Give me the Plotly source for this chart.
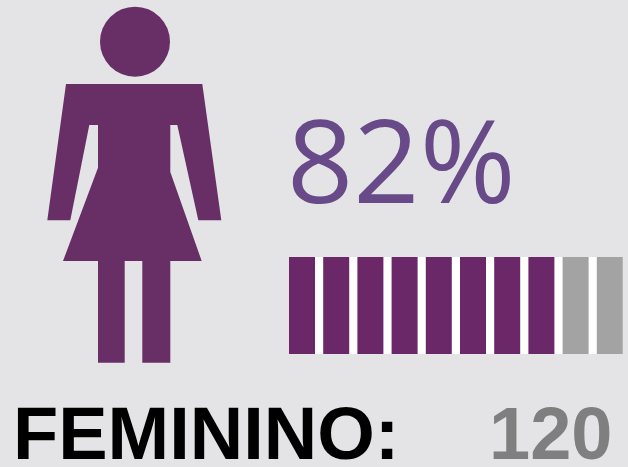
import plotly.graph_objects as go

# --- data ---
label = "FEMININO:"
count = "120"
percent_text = "82%"
segments = [1, 2, 3, 4, 5, 6, 7, 8, 9, 10]
segment_values = [1, 1, 1, 1, 1, 1, 1, 1, 1, 1]
segment_state = ["on", "on", "on", "on", "on", "on", "on", "on", "off", "off"]

# pictogram outline, in picture pixels
person_x = [66, 202.3, 221.3, 198.3, 177.3, 170.3, 170.3, 201.7, 170.3, 170.3, 142.3, 142.3,
            124.7, 124.7, 98, 98, 63, 98, 98, 89.3, 70.3, 47.3, 66]
person_y = [84, 84, 220.3, 220.3, 125, 125, 172, 261, 261, 362.7, 362.7, 261,
            261, 362.7, 362.7, 261, 261, 167.7, 125, 125, 220.3, 220.3, 84]
head_x = [135]
head_y = [41.7]

BG = "#E4E4E6"
PERSON = "#682F66"
ON = "#6A2868"
OFF = "#A3A3A3"

fig = go.Figure()
fig.add_trace(go.Scatter(x=person_x, y=person_y, mode="lines", fill="toself",
                         fillcolor=PERSON, line=dict(width=0, color=PERSON),
                         hoverinfo="skip", showlegend=False))
fig.add_trace(go.Scatter(x=head_x, y=head_y, mode="markers",
                         marker=dict(size=70, color=PERSON, line=dict(width=0)),
                         hoverinfo="skip", showlegend=False))
fig.add_trace(go.Bar(x=segments, y=segment_values, xaxis="x2", yaxis="y2", width=0.76,
                     marker=dict(color=[ON if s == "on" else OFF for s in segment_state], line=dict(width=0)),
                     hoverinfo="skip", showlegend=False))

W, H = 628, 467
hidden = dict(visible=False, showgrid=False, zeroline=False, fixedrange=True)
fig.update_layout(
    width=W, height=H, margin=dict(l=0, r=0, t=0, b=0),
    paper_bgcolor=BG, plot_bgcolor="rgba(0,0,0,0)", hovermode=False,
    xaxis=dict(range=[0, W], domain=[0, 1], **hidden),
    yaxis=dict(range=[H, 0], domain=[0, 1], **hidden),
    xaxis2=dict(range=[0.5, 10.5], domain=[284.9 / W, 626.9 / W], anchor="y2", **hidden),
    yaxis2=dict(range=[0, 1], domain=[1 - 354 / H, 1 - 257 / H], anchor="x2", **hidden),
    shapes=[dict(type="rect", xref="paper", yref="paper", x0=289 / W, x1=623 / W,
                 y0=1 - 354 / H, y1=1 - 257 / H, fillcolor="#FFFFFF",
                 line=dict(width=0), layer="below")],
    annotations=[
        dict(text=percent_text, x=285 / W, y=1 - 158 / H, xref="paper", yref="paper",
             xanchor="left", yanchor="middle", showarrow=False,
             font=dict(family="Open Sans", size=116, color="#674A87")),
        dict(text=label, x=11 / W, y=1 - 433 / H, xref="paper", yref="paper",
             xanchor="left", yanchor="middle", showarrow=False,
             font=dict(family="Liberation Sans", size=74, color="#000000", weight="bold")),
        dict(text=count, x=614 / W, y=1 - 433 / H, xref="paper", yref="paper",
             xanchor="right", yanchor="middle", showarrow=False,
             font=dict(family="Liberation Sans", size=74, color="#7F7F7F", weight="bold")),
    ],
)
fig.write_html("out.html", config=dict(displayModeBar=False, responsive=False),
               post_script="document.body.style.margin='0';document.body.style.overflow='hidden';")
